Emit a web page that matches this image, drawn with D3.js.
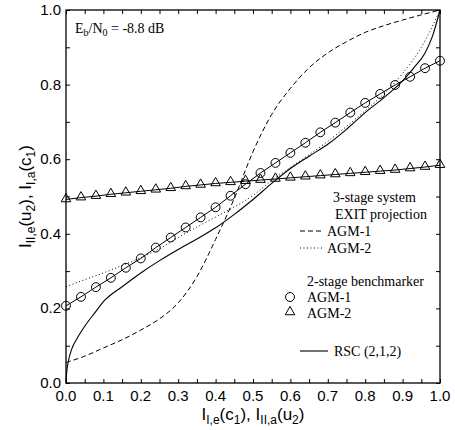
<!DOCTYPE html>
<html lang="en">
<head>
<meta charset="utf-8">
<title>EXIT chart</title>
<script src="https://d3js.org/d3.v7.min.js"></script>
<style>
  body { margin: 0; background: #fff; }
  .tick-label { font-family: "Liberation Sans", Arial, sans-serif; font-size: 15px; fill: #000; }
  .axis-title { font-family: "Liberation Sans", Arial, sans-serif; font-size: 17px; fill: #000; }
  .legend { font-family: "Liberation Serif", "Times New Roman", serif; font-size: 14px; fill: #000; }
</style>
</head>
<body>
<div id="chart"></div>
<script>
// marker grid of the 2-stage benchmarker curves
var markX = [0, 0.04, 0.08, 0.12, 0.16, 0.2, 0.24, 0.28, 0.32, 0.36, 0.4, 0.44, 0.48,
             0.52, 0.56, 0.6, 0.64, 0.68, 0.72, 0.76, 0.8, 0.84, 0.88, 0.92, 0.96, 1.0];
var bench1 = [0.207, 0.231, 0.257, 0.282, 0.309, 0.334, 0.363, 0.39, 0.417, 0.444, 0.471, 0.502, 0.533,
              0.563, 0.59, 0.617, 0.644, 0.672, 0.698, 0.725, 0.751, 0.775, 0.799, 0.821, 0.844, 0.864];
var bench2 = [0.492, 0.497, 0.501, 0.506, 0.51, 0.514, 0.518, 0.522, 0.527, 0.531, 0.535, 0.538, 0.541,
              0.544, 0.547, 0.55, 0.553, 0.556, 0.559, 0.562, 0.565, 0.568, 0.571, 0.575, 0.579, 0.584];

// 3-stage EXIT projection curves
var projX = [0, 0.05, 0.1, 0.15, 0.2, 0.25, 0.3, 0.35, 0.4, 0.45, 0.5,
             0.55, 0.6, 0.65, 0.7, 0.75, 0.8, 0.85, 0.9, 0.95, 1.0];
var proj1 = [0.055, 0.072, 0.094, 0.116, 0.142, 0.172, 0.215, 0.285, 0.385, 0.495, 0.62,
             0.72, 0.79, 0.845, 0.885, 0.915, 0.94, 0.958, 0.973, 0.987, 1.0];
var proj2 = [0.258, 0.277, 0.295, 0.315, 0.336, 0.36, 0.39, 0.418, 0.445, 0.472, 0.503,
             0.543, 0.578, 0.612, 0.648, 0.688, 0.73, 0.775, 0.83, 0.9, 1.0];

// RSC (2,1,2)
var rscX = [0, 0.002, 0.006, 0.015, 0.03, 0.05, 0.08, 0.1, 0.15, 0.2, 0.25, 0.3, 0.35, 0.4,
            0.45, 0.5, 0.55, 0.6, 0.65, 0.7, 0.75, 0.8, 0.85, 0.9, 0.93, 0.96, 0.98, 1.0];
var rscY = [0, 0.03, 0.057, 0.09, 0.12, 0.152, 0.192, 0.218, 0.258, 0.295, 0.328, 0.358, 0.386, 0.416,
            0.452, 0.492, 0.535, 0.575, 0.608, 0.64, 0.68, 0.725, 0.765, 0.81, 0.845, 0.885, 0.93, 1.0];

var xTicks = [0, 0.1, 0.2, 0.3, 0.4, 0.5, 0.6, 0.7, 0.8, 0.9, 1.0];
var yTicks = [0, 0.2, 0.4, 0.6, 0.8, 1.0];

var w = 455, h = 430;
var pLeft = 66, pTop = 10, pRight = 440, pBottom = 383;

var svg = d3.select("#chart").append("svg")
  .attr("width", w).attr("height", h);

var x = d3.scaleLinear().domain([0, 1]).range([pLeft, pRight]);
var y = d3.scaleLinear().domain([0, 1]).range([pBottom, pTop]);

var fmt = d3.format(".1f");

// ticks, inward on all four sides
var minorX = d3.range(0, 1.0001, 0.05);
var minorY = d3.range(0, 1.0001, 0.1);
svg.append("g").attr("transform", "translate(0," + pBottom + ")")
  .call(d3.axisBottom(x).tickValues(minorX).tickSize(-4).tickFormat(""))
  .call(function(g) { g.select(".domain").remove(); });
svg.append("g").attr("transform", "translate(0," + pTop + ")")
  .call(d3.axisTop(x).tickValues(minorX).tickSize(-4).tickFormat(""))
  .call(function(g) { g.select(".domain").remove(); });
svg.append("g").attr("transform", "translate(" + pLeft + ",0)")
  .call(d3.axisLeft(y).tickValues(minorY).tickSize(-4).tickFormat(""))
  .call(function(g) { g.select(".domain").remove(); });
svg.append("g").attr("transform", "translate(" + pRight + ",0)")
  .call(d3.axisRight(y).tickValues(minorY).tickSize(-4).tickFormat(""))
  .call(function(g) { g.select(".domain").remove(); });

// tick labels
svg.selectAll(".xl").data(xTicks).enter().append("text")
  .attr("class", "tick-label")
  .attr("x", function(d) { return x(d); })
  .attr("y", pBottom + 18)
  .attr("text-anchor", "middle")
  .text(fmt);
svg.selectAll(".yl").data(yTicks).enter().append("text")
  .attr("class", "tick-label")
  .attr("x", pLeft - 5)
  .attr("y", function(d) { return y(d) + 5; })
  .attr("text-anchor", "end")
  .text(fmt);

// frame
svg.append("rect")
  .attr("x", pLeft).attr("y", pTop)
  .attr("width", pRight - pLeft).attr("height", pBottom - pTop)
  .attr("fill", "none").attr("stroke", "#000").attr("stroke-width", 1.3);

var curve = d3.line()
  .x(function(d) { return x(d[0]); })
  .y(function(d) { return y(d[1]); })
  .curve(d3.curveMonotoneX);
var straight = d3.line()
  .x(function(d) { return x(d[0]); })
  .y(function(d) { return y(d[1]); });

function zip(a, b) { return a.map(function(v, i) { return [v, b[i]]; }); }

var plot = svg.append("g");

plot.append("path").attr("d", curve(zip(projX, proj1)))
  .attr("fill", "none").attr("stroke", "#000").attr("stroke-width", 1)
  .attr("stroke-dasharray", "5,3");
plot.append("path").attr("d", curve(zip(projX, proj2)))
  .attr("fill", "none").attr("stroke", "#000").attr("stroke-width", 1)
  .attr("stroke-dasharray", "1,2.5");
plot.append("path").attr("d", curve(zip(rscX, rscY)))
  .attr("fill", "none").attr("stroke", "#000").attr("stroke-width", 1.1);

plot.append("path").attr("d", straight(zip(markX, bench1)))
  .attr("fill", "none").attr("stroke", "#000").attr("stroke-width", 1);
plot.append("path").attr("d", straight(zip(markX, bench2)))
  .attr("fill", "none").attr("stroke", "#000").attr("stroke-width", 1);

var circ = d3.symbol().type(d3.symbolCircle).size(62);
var tri = d3.symbol().type(d3.symbolTriangle).size(40);

plot.selectAll(".c1").data(zip(markX, bench1)).enter().append("path")
  .attr("d", circ)
  .attr("transform", function(d) { return "translate(" + x(d[0]) + "," + y(d[1]) + ")"; })
  .attr("fill", "none").attr("stroke", "#000").attr("stroke-width", 1);
plot.selectAll(".t2").data(zip(markX, bench2)).enter().append("path")
  .attr("d", tri)
  .attr("transform", function(d) { return "translate(" + x(d[0]) + "," + (y(d[1]) - 0.5) + ")"; })
  .attr("fill", "none").attr("stroke", "#000").attr("stroke-width", 1);

// Eb/N0 annotation
var eb = svg.append("text").attr("class", "legend").attr("x", 75).attr("y", 33);
eb.append("tspan").text("E");
eb.append("tspan").attr("font-size", "10px").attr("dy", 3).text("b");
eb.append("tspan").attr("dy", -3).text("/N");
eb.append("tspan").attr("font-size", "10px").attr("dy", 3).text("0");
eb.append("tspan").attr("dy", -3).text(" = -8.8 dB");

// legend
var lg = svg.append("g");
lg.append("text").attr("class", "legend").attr("x", 333).attr("y", 202).text("3-stage system");
lg.append("text").attr("class", "legend").attr("x", 335).attr("y", 219).text("EXIT projection");
lg.append("line").attr("x1", 300).attr("x2", 322).attr("y1", 231).attr("y2", 231)
  .attr("stroke", "#000").attr("stroke-dasharray", "5,3");
lg.append("text").attr("class", "legend").attr("x", 327).attr("y", 236).text("AGM-1");
lg.append("line").attr("x1", 300).attr("x2", 322).attr("y1", 248).attr("y2", 248)
  .attr("stroke", "#000").attr("stroke-dasharray", "1,2.5");
lg.append("text").attr("class", "legend").attr("x", 327).attr("y", 253).text("AGM-2");

lg.append("text").attr("class", "legend").attr("x", 307).attr("y", 286).text("2-stage benchmarker");
lg.append("path").attr("d", circ).attr("transform", "translate(290,297)")
  .attr("fill", "none").attr("stroke", "#000");
lg.append("text").attr("class", "legend").attr("x", 307).attr("y", 302).text("AGM-1");
lg.append("path").attr("d", tri).attr("transform", "translate(290,312)")
  .attr("fill", "none").attr("stroke", "#000");
lg.append("text").attr("class", "legend").attr("x", 307).attr("y", 318).text("AGM-2");

lg.append("line").attr("x1", 300).attr("x2", 328).attr("y1", 351).attr("y2", 351)
  .attr("stroke", "#000").attr("stroke-width", 1.1);
lg.append("text").attr("class", "legend").attr("x", 334).attr("y", 356).text("RSC (2,1,2)");

// axis titles
function subTitle(sel, parts) {
  parts.forEach(function(p) {
    var t = sel.append("tspan").text(p[0]);
    if (p[1] === "sub") t.attr("font-size", "12px").attr("dy", 4);
    if (p[1] === "up") t.attr("dy", -4);
  });
}
var xt = svg.append("text").attr("class", "axis-title")
  .attr("x", (pLeft + pRight) / 2).attr("y", 420).attr("text-anchor", "middle");
subTitle(xt, [["I"], ["I,e", "sub"], ["(c", "up"], ["1", "sub"], ["), I", "up"],
              ["II,a", "sub"], ["(u", "up"], ["2", "sub"], [")", "up"]]);

var yt = svg.append("text").attr("class", "axis-title")
  .attr("transform", "translate(31," + ((pTop + pBottom) / 2) + ") rotate(-90)")
  .attr("text-anchor", "middle");
subTitle(yt, [["I"], ["II,e", "sub"], ["(u", "up"], ["2", "sub"], ["), I", "up"],
              ["I,a", "sub"], ["(c", "up"], ["1", "sub"], [")", "up"]]);
</script>
</body>
</html>
